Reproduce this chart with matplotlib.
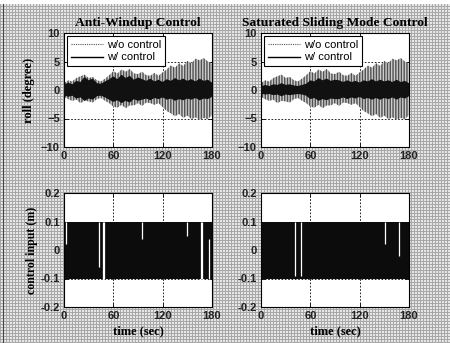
import numpy as np
import matplotlib
matplotlib.use("Agg")
import matplotlib.pyplot as plt
from matplotlib.lines import Line2D
from matplotlib.patches import Rectangle

# ---- data -------------------------------------------------------------
# time knots (s) at which the roll envelopes are sampled
t_knots = [0, 5, 10, 15, 20, 25, 30, 35, 40, 45, 50, 55, 60, 65, 70, 75, 80, 85,
           90, 95, 100, 105, 110, 115, 120, 125, 130, 135, 140, 145, 150, 155,
           160, 165, 170, 175, 180]

# roll without control (deg): upper / lower swing envelope
roll_free_hi = [1.2, 1.7, 1.5, 2.1, 2.4, 2.7, 2.1, 2.3, 1.7, 1.5, 2.0, 2.6, 3.3,
                2.9, 3.6, 3.2, 3.7, 2.9, 2.8, 3.2, 2.6, 2.5, 3.0, 2.5, 3.1, 3.6,
                4.3, 3.9, 4.7, 4.2, 5.1, 4.7, 5.5, 5.2, 5.6, 5.0, 4.6]
roll_free_lo = [-1.2, -1.6, -1.9, -1.7, -2.3, -1.9, -2.0, -2.2, -1.6, -1.4, -1.9,
                -2.3, -2.9, -3.1, -2.6, -3.2, -2.7, -2.7, -2.3, -2.8, -2.2, -2.3,
                -2.6, -2.3, -3.0, -3.7, -4.1, -4.6, -4.2, -4.9, -4.5, -5.1, -4.8,
                -5.2, -4.9, -5.1, -4.4]

# roll with anti-windup control (deg)
roll_aw_hi = [0.9, 1.3, 1.0, 1.6, 1.4, 2.3, 1.7, 2.0, 1.2, 1.1, 1.5, 1.9, 2.4,
              1.9, 2.7, 2.1, 2.5, 1.8, 2.2, 1.9, 1.6, 2.0, 1.5, 1.8, 1.4, 1.9,
              1.6, 2.1, 1.7, 2.0, 1.6, 1.9, 1.5, 2.0, 1.6, 1.8, 1.3]
roll_aw_lo = [-0.9, -1.2, -1.0, -1.5, -1.3, -1.9, -1.5, -1.7, -1.1, -1.0, -1.3,
              -1.7, -2.1, -1.8, -2.3, -1.9, -2.2, -1.6, -1.9, -1.7, -1.5, -1.8,
              -1.4, -1.6, -1.3, -1.7, -1.5, -1.9, -1.6, -1.8, -1.5, -1.7, -1.4,
              -1.8, -1.5, -1.6, -1.2]

# roll with saturated sliding mode control (deg)
roll_sm_hi = [0.6, 0.9, 0.7, 1.0, 0.9, 1.2, 0.9, 1.0, 0.8, 0.7, 0.9, 1.1, 1.7,
              1.5, 2.1, 1.7, 2.0, 1.6, 1.8, 1.7, 1.4, 1.7, 1.4, 1.6, 1.3, 1.7,
              1.5, 1.9, 1.5, 1.8, 1.5, 1.7, 1.4, 1.8, 1.4, 1.6, 1.2]
roll_sm_lo = [-0.6, -0.8, -0.7, -0.9, -0.8, -1.1, -0.8, -0.9, -0.8, -0.7, -0.8,
              -1.0, -1.6, -1.4, -1.9, -1.6, -1.8, -1.5, -1.6, -1.6, -1.3, -1.6,
              -1.3, -1.5, -1.2, -1.6, -1.4, -1.7, -1.4, -1.7, -1.4, -1.6, -1.3,
              -1.7, -1.3, -1.5, -1.1]

# control input saturation (m) and span of the record (s)
u_sat = 0.1
t_span = [0, 180]

# instants (s) where the control input briefly leaves saturation,
# with the lower/upper value reached at that instant (m)
aw_gap_t = [3, 42, 48, 49, 95, 150, 167, 168, 176]
aw_gap_lo = [0.02, -0.06, -0.1, -0.1, 0.04, 0.05, -0.1, -0.1, -0.1]
aw_gap_hi = [0.1, 0.1, 0.1, 0.1, 0.1, 0.1, 0.1, 0.1, 0.04]
sm_gap_t = [41, 49, 151, 168]
sm_gap_lo = [-0.09, -0.09, 0.02, -0.02]
sm_gap_hi = [0.1, 0.1, 0.1, 0.1]

roll_ticks = [-10, -5, 0, 5, 10]
u_ticks = [-0.2, -0.1, 0, 0.1, 0.2]
u_ticklabels = ["-0.2", "-0.1", "0", "0.1", "0.2"]
time_ticks = [0, 60, 120, 180]

titles = ["Anti-Windup Control", "Saturated Sliding Mode Control"]

# ---- figure -----------------------------------------------------------
W, H = 450, 343
fig = plt.figure(figsize=(W / 100, H / 100), dpi=100)
fig.patch.set_facecolor("#bdbdbd")

# halftone-like screen of the printed page behind the panels
jj, ii = np.meshgrid(np.arange(W), np.arange(H))
screen = np.where((ii % 3 == 0) | (jj % 3 == 0), 0.66, 0.90)
fig.figimage(screen, xo=0, yo=0, cmap="gray", vmin=0, vmax=1, zorder=-10)
fig.patches.append(Rectangle((0, 1 - 4 / H), 1, 4 / H, transform=fig.transFigure,
                             facecolor="white", edgecolor="none", zorder=-5))
fig.lines.append(Line2D([3 / W, 3 / W], [0, 1 - 4 / H], transform=fig.transFigure,
                        color="#444444", lw=0.8, zorder=-4))

serif = "Liberation Serif"
sans = "Liberation Sans"

lefts = [64 / W, 261 / W]
width = 148 / W
top_row = (H - 147) / H
bot_row = (H - 307) / H
height = 114 / H

grid_kw = dict(color="black", lw=0.6, ls=(0, (2, 2)))


def style_axes(ax):
    ax.set_facecolor("white")
    for s in ax.spines.values():
        s.set_linewidth(0.8)
        s.set_color("black")
    ax.tick_params(direction="in", length=3, width=0.6, pad=3,
                   top=True, right=True, labelsize=8)
    for lab in ax.get_xticklabels() + ax.get_yticklabels():
        lab.set_fontfamily(sans)
        lab.set_fontweight("bold")
        lab.set_color("#222222")


roll_sets = [(roll_aw_hi, roll_aw_lo), (roll_sm_hi, roll_sm_lo)]
gap_sets = [(aw_gap_t, aw_gap_lo, aw_gap_hi), (sm_gap_t, sm_gap_lo, sm_gap_hi)]

for k in range(2):
    # roll response
    ax = fig.add_axes([lefts[k], top_row, width, height])
    ax.fill_between(t_knots, roll_free_lo, roll_free_hi, facecolor="#cdcdcd",
                    edgecolor="#505050", hatch="||||||", linewidth=0, zorder=2)
    hi, lo = roll_sets[k]
    ax.fill_between(t_knots, lo, hi, facecolor="#111111", edgecolor="none",
                    linewidth=0, zorder=3)
    ax.set_xlim(0, 180)
    ax.set_ylim(-10, 10)
    ax.set_xticks(time_ticks)
    ax.set_yticks(roll_ticks)
    ax.grid(True, zorder=1, **grid_kw)
    ax.set_axisbelow(True)
    style_axes(ax)
    ax.set_title(titles[k], fontfamily=serif, fontweight="bold", fontsize=9.7, pad=5)
    if k == 0:
        ax.set_ylabel("roll (degree)", fontfamily=serif, fontweight="bold",
                      fontsize=9, labelpad=4)
    handles = [Line2D([], [], color="#555555", lw=0.8, ls=(0, (1, 1))),
               Line2D([], [], color="black", lw=1.0)]
    leg = ax.legend(handles, ["w/o control", "w/ control"], loc="upper left",
                    prop={"family": sans, "size": 8}, handlelength=2.9,
                    handletextpad=0.4, borderaxespad=0.25, borderpad=0.35,
                    labelspacing=0.25, fancybox=False, framealpha=1,
                    edgecolor="black")
    leg.get_frame().set_linewidth(0.8)
    leg.set_zorder(5)

    # control input
    ax2 = fig.add_axes([lefts[k], bot_row, width, height])
    ax2.fill_between(t_span, [-u_sat, -u_sat], [u_sat, u_sat], facecolor="#0c0c0c",
                     edgecolor="none", zorder=2)
    gt, glo, ghi = gap_sets[k]
    ax2.vlines(gt, glo, ghi, colors="white", lw=0.9, zorder=3)
    ax2.set_xlim(0, 180)
    ax2.set_ylim(-0.2, 0.2)
    ax2.set_xticks(time_ticks)
    ax2.set_yticks(u_ticks)
    ax2.set_yticklabels(u_ticklabels)
    ax2.grid(True, zorder=1, **grid_kw)
    ax2.set_axisbelow(True)
    style_axes(ax2)
    ax2.set_xlabel("time (sec)", fontfamily=serif, fontweight="bold",
                   fontsize=9, labelpad=3)
    if k == 0:
        ax2.set_ylabel("control input (m)", fontfamily=serif, fontweight="bold",
                       fontsize=8.6, labelpad=2)

fig.savefig("out.png", dpi=100, facecolor=fig.get_facecolor())
